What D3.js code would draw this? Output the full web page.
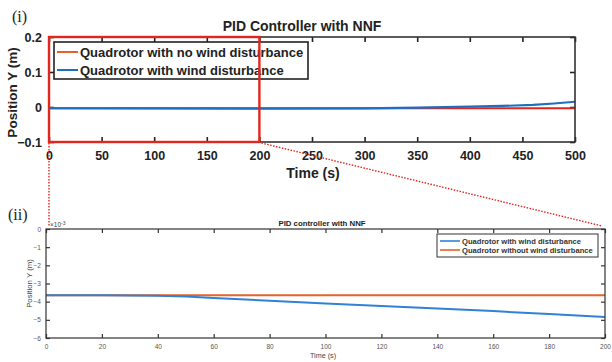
<!DOCTYPE html>
<html>
<head>
<meta charset="utf-8">
<script src="https://cdn.jsdelivr.net/npm/d3@7"></script>
<style>
  html, body { margin: 0; padding: 0; background: #fff; }
  svg { display: block; font-family: "Liberation Sans", Arial, sans-serif; }
</style>
</head>
<body>
<svg id="chart" width="612" height="362"></svg>
<script>
// Full run (0–500 s), position Y in metres
const fullTime = [0, 100, 200, 300, 350, 400, 430, 460, 480, 500];
const fullWind = [-0.0036, -0.004, -0.0048, -0.004, -0.002, 0.001, 0.003, 0.006, 0.010, 0.015];
const fullNoWindTime = [0, 500];
const fullNoWind = [-0.0036, -0.0036];

// Zoomed window (0–200 s), position Y in units of 1e-3 m
const zoomTime = [0, 20, 40, 50, 60, 80, 100, 120, 140, 160, 180, 200];
const zoomWind = [-3.65, -3.65, -3.67, -3.72, -3.8, -3.95, -4.1, -4.24, -4.38, -4.52, -4.68, -4.84];
const zoomNoWind = [-3.65, -3.65, -3.65, -3.65, -3.65, -3.65, -3.65, -3.65, -3.65, -3.65, -3.65, -3.65];

const topXTicks = [0, 50, 100, 150, 200, 250, 300, 350, 400, 450, 500];
const topYTicks = [-0.1, 0, 0.1, 0.2];
const botXTicks = [0, 20, 40, 60, 80, 100, 120, 140, 160, 180, 200];
const botYTicks = [0, -1, -2, -3, -4, -5, -6];

const topLegend = ["Quadrotor with no wind disturbance", "Quadrotor with wind disturbance"];
const botLegend = ["Quadrotor with wind disturbance", "Quadrotor without wind disturbance"];

const BLUE = "#1f6fc0";
const ORANGE = "#e8602a";
const RED = "#e3251d";
const LBLUE = "#2f82d4";

const svg = d3.select("#chart");

// ---------- panel (i) ----------
const T = { l: 49, r: 575, t: 37, b: 142 };
const xT = d3.scaleLinear().domain([0, 500]).range([T.l, T.r]);
const yT = d3.scaleLinear().domain([-0.1, 0.2]).range([T.b, T.t]);

const gT = svg.append("g");

function styleAxis(g, color, width) {
  g.select(".domain").remove();
  g.selectAll(".tick line").attr("stroke", color).attr("stroke-width", width);
}

gT.append("g").attr("transform", `translate(0,${T.b})`)
  .call(d3.axisBottom(xT).tickValues(topXTicks).tickSizeInner(-5).tickSizeOuter(0).tickPadding(9).tickFormat(d3.format("d")))
  .call(g => styleAxis(g, "#222", 1.6))
  .call(g => g.selectAll("text").attr("font-size", 12.5).attr("font-weight", "bold").attr("fill", "#222"));
gT.append("g").attr("transform", `translate(0,${T.t})`)
  .call(d3.axisTop(xT).tickValues(topXTicks).tickSizeInner(-5).tickSizeOuter(0).tickFormat(""))
  .call(g => styleAxis(g, "#222", 1.6));
gT.append("g").attr("transform", `translate(${T.l},0)`)
  .call(d3.axisLeft(yT).tickValues(topYTicks).tickSizeInner(-5).tickSizeOuter(0).tickPadding(7).tickFormat(d => d === 0 ? "0" : d3.format(".1f")(d)))
  .call(g => styleAxis(g, "#222", 1.6))
  .call(g => g.selectAll("text").attr("font-size", 12.5).attr("font-weight", "bold").attr("fill", "#222"));
gT.append("g").attr("transform", `translate(${T.r},0)`)
  .call(d3.axisRight(yT).tickValues(topYTicks).tickSizeInner(-5).tickSizeOuter(0).tickFormat(""))
  .call(g => styleAxis(g, "#222", 1.6));

const lineT = d3.line().x(d => xT(d[0])).y(d => yT(d[1]));
gT.append("path").datum(fullNoWindTime.map((t, i) => [t, fullNoWind[i]]))
  .attr("d", lineT).attr("fill", "none").attr("stroke", RED).attr("stroke-width", 2.2);
gT.append("path").datum(fullTime.map((t, i) => [t, fullWind[i]]))
  .attr("d", lineT).attr("fill", "none").attr("stroke", BLUE).attr("stroke-width", 2.2);

gT.append("rect").attr("x", T.l).attr("y", T.t).attr("width", T.r - T.l).attr("height", T.b - T.t)
  .attr("fill", "none").attr("stroke", "#333").attr("stroke-width", 1.6);

// legend (i)
const lgT = gT.append("g").attr("transform", "translate(54,42)");
lgT.append("rect").attr("width", 254).attr("height", 37).attr("fill", "#fff").attr("stroke", "#222").attr("stroke-width", 1.6);
topLegend.forEach((name, i) => {
  const y = 10 + i * 18;
  lgT.append("line").attr("x1", 3).attr("x2", 24).attr("y1", y).attr("y2", y)
    .attr("stroke", i === 0 ? ORANGE : BLUE).attr("stroke-width", 2);
  lgT.append("text").attr("x", 26).attr("y", y + 4.5).text(name)
    .attr("font-size", 13).attr("font-weight", "bold").attr("fill", "#222");
});

gT.append("text").attr("x", 302).attr("y", 31).attr("text-anchor", "middle")
  .attr("font-size", 14).attr("font-weight", "bold").attr("fill", "#222").text("PID Controller with NNF");
gT.append("text").attr("x", 313).attr("y", 178).attr("text-anchor", "middle")
  .attr("font-size", 14).attr("font-weight", "bold").attr("fill", "#222").text("Time (s)");
gT.append("text").attr("transform", `translate(17,${(T.t + T.b) / 2 + 3}) rotate(-90)`).attr("text-anchor", "middle")
  .attr("font-size", 13.5).attr("font-weight", "bold").attr("fill", "#222").text("Position Y (m)");

// zoom window marker on panel (i)
gT.append("rect").attr("x", xT(0)).attr("y", T.t).attr("width", xT(200) - xT(0)).attr("height", T.b - T.t)
  .attr("fill", "none").attr("stroke", RED).attr("stroke-width", 2.4);

svg.append("text").attr("x", 12).attr("y", 22).attr("font-family", "Liberation Serif, serif")
  .attr("font-size", 16).attr("fill", "#222").text("(i)");

// ---------- panel (ii) ----------
const B = { l: 46, r: 605, t: 229, b: 338 };
const xB = d3.scaleLinear().domain([0, 200]).range([B.l, B.r]);
const yB = d3.scaleLinear().domain([-6, 0]).range([B.b, B.t]);
const gB = svg.append("g");

// connector lines from the zoom window to panel (ii)
svg.append("line").attr("x1", xT(0)).attr("y1", T.b + 1).attr("x2", xT(0)).attr("y2", B.t - 2)
  .attr("stroke", RED).attr("stroke-width", 1.4).attr("stroke-dasharray", "1.5,1.5");
svg.append("line").attr("x1", xT(200) + 2).attr("y1", T.b + 1).attr("x2", 602).attr("y2", B.t - 3)
  .attr("stroke", RED).attr("stroke-width", 1.4).attr("stroke-dasharray", "1.5,1.5");

gB.append("g").attr("transform", `translate(0,${B.b})`)
  .call(d3.axisBottom(xB).tickValues(botXTicks).tickSizeInner(-4).tickSizeOuter(0).tickPadding(6).tickFormat(d3.format("d")))
  .call(g => styleAxis(g, "#333", 1.2))
  .call(g => g.selectAll("text").attr("font-size", 6.5).attr("fill", "#555"));
gB.append("g").attr("transform", `translate(0,${B.t})`)
  .call(d3.axisTop(xB).tickValues(botXTicks).tickSizeInner(-4).tickSizeOuter(0).tickFormat(""))
  .call(g => styleAxis(g, "#333", 1.2));
gB.append("g").attr("transform", `translate(${B.l},0)`)
  .call(d3.axisLeft(yB).tickValues(botYTicks).tickSizeInner(-4).tickSizeOuter(0).tickPadding(5).tickFormat(d3.format("d")))
  .call(g => styleAxis(g, "#333", 1.2))
  .call(g => g.selectAll("text").attr("font-size", 6.5).attr("fill", "#555"));
gB.append("g").attr("transform", `translate(${B.r},0)`)
  .call(d3.axisRight(yB).tickValues(botYTicks).tickSizeInner(-4).tickSizeOuter(0).tickFormat(""))
  .call(g => styleAxis(g, "#333", 1.2));

const lineB = d3.line().x(d => xB(d[0])).y(d => yB(d[1]));
gB.append("path").datum(zoomTime.map((t, i) => [t, zoomNoWind[i]]))
  .attr("d", lineB).attr("fill", "none").attr("stroke", ORANGE).attr("stroke-width", 2);
gB.append("path").datum(zoomTime.map((t, i) => [t, zoomWind[i]]))
  .attr("d", lineB).attr("fill", "none").attr("stroke", LBLUE).attr("stroke-width", 2);

gB.append("rect").attr("x", B.l).attr("y", B.t).attr("width", B.r - B.l).attr("height", B.b - B.t)
  .attr("fill", "none").attr("stroke", "#333").attr("stroke-width", 1.2);

// legend (ii)
const lgB = gB.append("g").attr("transform", "translate(437,234)");
lgB.append("rect").attr("width", 161).attr("height", 23).attr("fill", "#fff").attr("stroke", "#333").attr("stroke-width", 1);
botLegend.forEach((name, i) => {
  const y = 7 + i * 9;
  lgB.append("line").attr("x1", 3).attr("x2", 23).attr("y1", y).attr("y2", y)
    .attr("stroke", i === 0 ? LBLUE : ORANGE).attr("stroke-width", 1.6);
  lgB.append("text").attr("x", 25).attr("y", y + 2.6).text(name)
    .attr("font-size", 7.6).attr("font-weight", "bold").attr("fill", "#333");
});

gB.append("text").attr("x", 322).attr("y", 226).attr("text-anchor", "middle")
  .attr("font-size", 7.8).attr("font-weight", "bold").attr("fill", "#222").text("PID controller with NNF");
gB.append("text").attr("x", 323).attr("y", 358).attr("text-anchor", "middle")
  .attr("font-size", 7.2).attr("fill", "#444").text("Time (s)");
gB.append("text").attr("transform", `translate(32,${(B.t + B.b) / 2}) rotate(-90)`).attr("text-anchor", "middle")
  .attr("font-size", 7.8).attr("fill", "#444").text("Position Y (m)");
const expo = gB.append("text").attr("x", 50).attr("y", 227).attr("font-size", 6.5).attr("fill", "#444");
expo.append("tspan").text("×10");
expo.append("tspan").attr("dy", -2.5).attr("font-size", 5).text("-3");

svg.append("text").attr("x", 8).attr("y", 220).attr("font-family", "Liberation Serif, serif")
  .attr("font-size", 16).attr("fill", "#222").text("(ii)");
</script>
</body>
</html>
